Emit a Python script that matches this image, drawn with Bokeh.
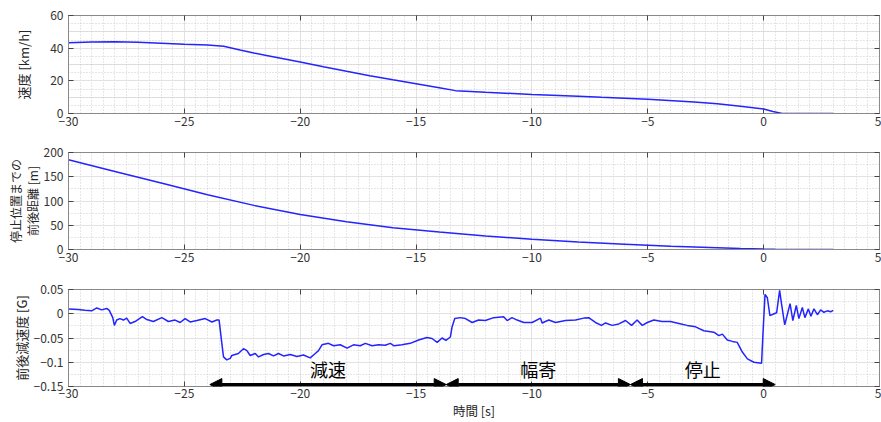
from bokeh.plotting import figure
from bokeh.models import (Range1d, LinearAxis, SingleIntervalTicker, FixedTicker,
                          CustomJSTickFormatter, CustomLabelingPolicy, Arrow, NormalHead, Grid)
from bokeh.layouts import column
from bokeh.core.properties import value
from bokeh.embed import file_html
from bokeh.resources import INLINE

# ---------------- data ----------------
speed_t = [-30, -29, -28, -27, -26, -25, -24, -23.3, -22.6, -22, -21.4, -20, -19, -18, -17,
           -16, -15, -14, -13.3, -12, -10, -8, -7, -5, -3, -2, -1, 0, 0.4, 0.8, 1.5, 3]
speed_kmh = [43.3, 43.8, 44.0, 43.6, 43.0, 42.4, 41.9, 41.2, 38.9, 37.0, 35.4, 31.5, 28.6, 25.8,
             23.1, 20.6, 18.2, 15.8, 14.0, 13.0, 11.6, 10.5, 9.9, 8.8, 7.0, 6.0, 4.5, 2.8, 1.2,
             0.0, 0.0, 0.0]

dist_t = [-30, -28, -26, -24, -22, -20, -18, -16, -14, -12, -10, -8, -6, -4, -2, -1, 0, 0.5, 1, 3]
dist_m = [185, 161, 137, 113, 91, 72, 57, 45, 36, 28, 21, 15.5, 11, 6.5, 3.5, 2.0, 0.8, 0.3, 0, 0]

acc_t = [-30.0, -29.58, -29.29, -29.0, -28.78, -28.57, -28.35, -28.24, -28.09, -28.02, -27.92,
         -27.78, -27.63, -27.49, -27.34, -27.13, -26.81, -26.62, -26.34, -25.97, -25.69, -25.40,
         -25.18, -24.97, -24.75, -24.46, -24.10, -23.81, -23.60, -23.50, -23.38, -23.31, -23.17,
         -23.02, -22.95, -22.67, -22.45, -22.30, -22.16, -21.94, -21.80, -21.58, -21.37, -21.15,
         -20.94, -20.72, -20.43, -20.14, -19.86, -19.57, -19.35, -19.21, -19.06, -18.78, -18.56,
         -18.27, -17.98, -17.70, -17.41, -17.19, -16.90, -16.62, -16.33, -16.11, -15.95, -15.61,
         -15.25, -14.89, -14.53, -14.31, -14.09, -13.88, -13.71, -13.52, -13.45, -13.33, -13.09,
         -12.87, -12.58, -12.30, -12.01, -11.65, -11.22, -11.07, -10.86, -10.64, -10.35, -9.99,
         -9.63, -9.56, -9.42, -9.27, -8.98, -8.55, -8.12, -7.76, -7.55, -7.26, -7.00, -6.82,
         -6.54, -6.25, -5.96, -5.70, -5.46, -5.24, -5.02, -4.74, -4.38, -4.02, -3.66, -3.30,
         -2.94, -2.58, -2.29, -2.15, -1.93, -1.78, -1.57, -1.35, -1.14, -0.92, -0.70, -0.42,
         -0.09, -0.03, 0.06, 0.16, 0.27, 0.45, 0.56, 0.69, 0.78, 0.91, 1.02, 1.14, 1.26, 1.41,
         1.52, 1.67, 1.78, 1.93, 2.04, 2.17, 2.32, 2.46, 2.60, 2.75, 2.89, 3.00]
acc_g = [0.010, 0.009, 0.007, 0.006, 0.012, 0.008, 0.011, 0.007, -0.008, -0.024, -0.013,
         -0.010, -0.013, -0.009, -0.020, -0.016, -0.006, -0.012, -0.016, -0.008, -0.016, -0.013,
         -0.018, -0.010, -0.017, -0.014, -0.010, -0.017, -0.013, -0.013, -0.062, -0.089, -0.095,
         -0.092, -0.086, -0.082, -0.072, -0.076, -0.086, -0.082, -0.089, -0.084, -0.082, -0.087,
         -0.082, -0.087, -0.084, -0.088, -0.085, -0.091, -0.082, -0.076, -0.064, -0.061, -0.066,
         -0.064, -0.071, -0.064, -0.066, -0.061, -0.066, -0.064, -0.065, -0.061, -0.066, -0.064,
         -0.061, -0.054, -0.049, -0.051, -0.059, -0.050, -0.055, -0.048, -0.028, -0.010, -0.008,
         -0.010, -0.018, -0.013, -0.014, -0.008, -0.006, -0.014, -0.008, -0.013, -0.018, -0.018,
         -0.009, -0.019, -0.016, -0.013, -0.018, -0.014, -0.013, -0.009, -0.008, -0.018, -0.024,
         -0.019, -0.024, -0.021, -0.014, -0.024, -0.013, -0.024, -0.018, -0.013, -0.016, -0.016,
         -0.020, -0.024, -0.027, -0.035, -0.037, -0.038, -0.045, -0.042, -0.054, -0.057, -0.059,
         -0.079, -0.093, -0.100, -0.102, -0.042, 0.040, 0.033, -0.004, 0.000, 0.002, 0.048,
         0.018, -0.023, -0.002, 0.021, -0.014, 0.017, -0.010, 0.013, -0.008, 0.010, -0.005,
         0.010, -0.002, 0.008, 0.003, 0.006, 0.004, 0.007]

acc_ticks = [-0.15, -0.1, -0.05, 0, 0.05]
acc_minor = [-0.15, -0.125, -0.1, -0.075, -0.05, -0.025, 0, 0.025, 0.05]

phase_bounds = [-23.9, -13.7, -5.75, 0.5]
phase_labels = ["減速", "幅寄", "停止"]

FONT = "Noto Sans CJK JP"
LINE = "#2424ff"
W = 881

fmt = CustomJSTickFormatter(code="return String(Number(tick.toFixed(4))).replace('-', '\u2212');")

NO_LABELS_JS = """
const n = indices.size;
for (let i = 0; i < n; i++) {
  if (typeof indices.unset === 'function') { indices.unset(i); }
  else { indices.set(i, false); }
}
return indices;
"""


def no_labels():
    return CustomLabelingPolicy(code=NO_LABELS_JS)


def make_fig(height, yr, yticker, ylabel, top, bottom, als, show_xlabel=False,
             label_size="13px"):
    p = figure(width=W, height=height, output_backend="svg", toolbar_location=None,
               x_range=Range1d(-30, 5), y_range=Range1d(*yr),
               min_border_left=68, min_border_right=2, min_border_top=top,
               min_border_bottom=bottom, x_axis_location=None, y_axis_location=None)
    p.outline_line_color = "#8a8a8a"
    p.background_fill_color = "white"
    p.border_fill_color = "white"
    xt = SingleIntervalTicker(interval=5, num_minor_ticks=10)
    yt = yticker

    def style(ax, labels=True):
        ax.axis_line_color = "#8a8a8a"
        ax.major_tick_line_color = "#444444"
        ax.major_tick_in = 5
        ax.major_tick_out = 0
        ax.minor_tick_in = 0
        ax.minor_tick_out = 0
        ax.major_label_text_font = FONT
        ax.major_label_text_font_size = "12px"
        ax.major_label_text_color = "#333333"
        ax.axis_label_text_font = FONT
        ax.axis_label_text_font_style = "normal"
        ax.axis_label_text_font_size = label_size
        ax.axis_label_text_color = "#262626"
        ax.axis_label_text_line_height = 1.0
        if not labels:
            ax.major_label_policy = no_labels()
            ax.major_label_text_font_size = "0px"
            ax.major_label_standoff = 0

    xb = LinearAxis(ticker=xt, formatter=fmt)
    style(xb)
    xb.major_label_standoff = 3
    if show_xlabel:
        xb.major_label_standoff = 2
        xb.axis_label = "時間 [s]"
        xb.axis_label_standoff = 0
        xb.axis_label_text_font_size = "12.5px"
    p.add_layout(xb, "below")
    xa = LinearAxis(ticker=xt)
    style(xa, labels=False)
    p.add_layout(xa, "above")

    yl = LinearAxis(ticker=yt, formatter=fmt, axis_label=ylabel)
    style(yl)
    yl.major_label_standoff = 5
    yl.axis_label_standoff = als
    p.add_layout(yl, "left")
    yr_ax = LinearAxis(ticker=yt)
    style(yr_ax, labels=False)
    p.add_layout(yr_ax, "right")

    gx = Grid(dimension=0, ticker=xt)
    gy = Grid(dimension=1, ticker=yt)
    for g in (gx, gy):
        g.grid_line_color = "#e2e2e2"
        g.grid_line_width = 1
        g.minor_grid_line_color = "#cdcdcd"
        g.minor_grid_line_dash = "1 2"
        g.minor_grid_line_width = 1
    p.add_layout(gx)
    p.add_layout(gy)
    return p


p1 = make_fig(140, (0, 60), SingleIntervalTicker(interval=20, num_minor_ticks=4),
              "速度 [km/h]", 15, 27, 14)
p1.line(speed_t, speed_kmh, line_color=LINE, line_width=1.5)

p2 = make_fig(137, (0, 200), SingleIntervalTicker(interval=50, num_minor_ticks=2),
              "停止位置までの\n前後距離 [m]", 12, 28, 0, label_size="12px")
p2.line(dist_t, dist_m, line_color=LINE, line_width=1.5)

p3 = make_fig(145, (-0.15, 0.05), FixedTicker(ticks=acc_ticks, minor_ticks=acc_minor),
              "前後減速度 [G]", 12, 35, 0, show_xlabel=True)
p3.line(acc_t, acc_g, line_color=LINE, line_width=1.5)

arrow_y = -0.146
label_y = -0.113
for i, lab in enumerate(phase_labels):
    a, b = phase_bounds[i], phase_bounds[i + 1]
    p3.add_layout(Arrow(x_start=a, y_start=arrow_y, x_end=b, y_end=arrow_y,
                        line_color="black", line_width=3,
                        start=NormalHead(size=12, fill_color="black", line_color="black"),
                        end=NormalHead(size=12, fill_color="black", line_color="black")))
    p3.text(x=[(a + b) / 2], y=[label_y], text=[lab], text_font=value(FONT),
            text_font_size="18px", text_align="center", text_baseline="middle",
            text_color="black")

layout = column(p1, p2, p3, spacing=0)
with open("out.html", "w", encoding="utf-8") as f:
    f.write(file_html(layout, INLINE))
